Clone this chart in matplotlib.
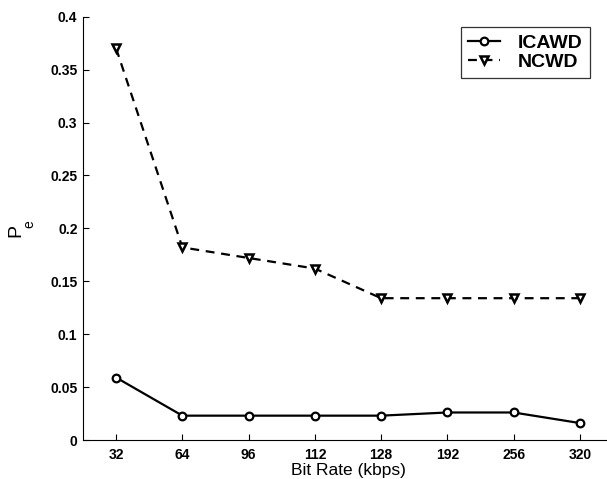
import matplotlib
matplotlib.use("Agg")
import matplotlib.pyplot as plt

categories = ["32", "64", "96", "112", "128", "192", "256", "320"]
icawd = [0.059, 0.023, 0.023, 0.023, 0.023, 0.026, 0.026, 0.016]
ncwd = [0.370, 0.182, 0.172, 0.162, 0.134, 0.134, 0.134, 0.134]
yticks = [0, 0.05, 0.1, 0.15, 0.2, 0.25, 0.3, 0.35, 0.4]
yticklabels = ["0", "0.05", "0.1", "0.15", "0.2", "0.25", "0.3", "0.35", "0.4"]

plt.rcParams['font.family'] = ['Liberation Sans', 'DejaVu Sans']

W, H = 607, 479
fig = plt.figure(figsize=(W/100, H/100), dpi=100)
left, right, bottom, top = 83, 613, 440, 16.7
ax = fig.add_axes([left/W, 1-bottom/H, (right-left)/W, (bottom-top)/H])

x = list(range(1, len(categories)+1))
ax.plot(x, icawd, '-', color='black', lw=1.6, marker='o', ms=5.5,
        mfc='white', mec='black', mew=1.6, label='ICAWD')
ax.plot(x, ncwd, color='black', lw=1.6, dashes=(4, 3), marker='v', ms=6,
        mfc='white', mec='black', mew=1.8, label='NCWD')

ax.set_xlim(0.5, 8.5)
ax.set_ylim(0, 0.4)
ax.set_xticks(x)
ax.set_xticklabels(categories, fontweight='bold', fontsize=10)
ax.set_yticks(yticks)
ax.set_yticklabels(yticklabels, fontweight='bold', fontsize=10)
ax.tick_params(axis='x', direction='in', length=4, width=0.8, pad=6)
ax.tick_params(axis='y', direction='in', length=4, width=0.8, pad=4)
for s in ['top', 'right']:
    ax.spines[s].set_visible(False)
ax.spines['left'].set_linewidth(0.8)
ax.spines['bottom'].set_linewidth(0.8)

# x label placed so it fits within the figure like the reference
fig.text(348/W, 1-470/H, 'Bit Rate (kbps)', fontsize=12.5, ha='center', va='center')
# y label: P with subscript e, drawn as rotated text pieces
fig.text(15.5/W, 1-231/H, 'P', rotation=90, fontsize=14, ha='center', va='center')
fig.text(29/W, 1-224.5/H, 'e', rotation=90, fontsize=10, ha='center', va='center')

leg = ax.legend(loc='upper left', bbox_to_anchor=((461-left)/(right-left), 1-(27-top)/(bottom-top)),
                prop={'weight': 'bold', 'size': 14}, frameon=True, fancybox=False,
                handlelength=1.65, handletextpad=0.9, borderpad=0.38, labelspacing=0.05,
                borderaxespad=0)
leg.get_frame().set_edgecolor('black')
leg.get_frame().set_linewidth(0.9)

fig.savefig('out.png', dpi=100)
